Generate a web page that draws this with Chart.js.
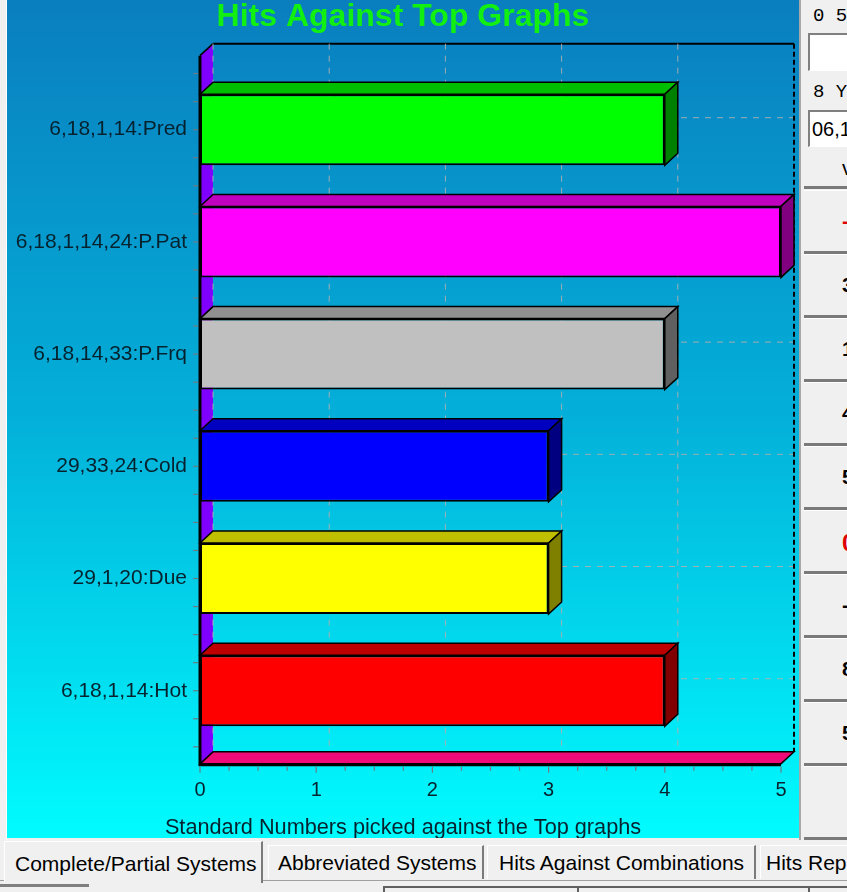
<!DOCTYPE html>
<html><head><meta charset="utf-8">
<script src="https://cdn.jsdelivr.net/npm/chart.js@4.4.1/dist/chart.umd.min.js"></script>
<style>
html,body{margin:0;padding:0;width:847px;height:892px;overflow:hidden;background:#f0f0f0;font-family:"Liberation Sans",Arial,sans-serif;}
#wrap{position:absolute;left:7px;top:0;width:792px;height:838px;}
#leftline{position:absolute;left:6px;top:0;width:1px;height:840px;background:#ffffff;}
#side{position:absolute;left:799px;top:0;width:48px;height:840px;background:#f0f0f0;border-left:2px solid #a8a8a8;overflow:hidden;}
.lbl{position:absolute;font-family:"Liberation Mono","DejaVu Sans Mono",monospace;font-size:19px;color:#000;white-space:nowrap;}
.inp{position:absolute;left:7px;width:60px;background:#fff;border-top:2px solid #808080;border-left:2px solid #808080;border-bottom:1px solid #fff;overflow:hidden;}
.cell{position:absolute;left:3px;width:80px;height:60px;border-top:1px solid #ffffff;border-bottom:3px solid #7a7a7a;background:#f0f0f0;}
.cell span{position:absolute;left:38px;top:18px;font-size:21px;font-weight:bold;color:#000;}
.tab{position:absolute;height:34px;background:#f0f0f0;border-top:1px solid #fff;border-left:1px solid #fff;border-right:2px solid #7a7a7a;font-size:21px;line-height:34px;white-space:nowrap;overflow:hidden;color:#000;}
</style></head>
<body>
<div id="leftline"></div>
<div id="wrap"><canvas id="c" width="792" height="838"></canvas></div>
<div id="side">
  <div class="lbl" style="left:12px;top:5px;">0 5</div>
  <div class="inp" style="top:33px;height:35px;"></div>
  <div class="lbl" style="left:12px;top:81px;">8 Y</div>
  <div class="inp" style="top:110px;height:34px;"><span style="position:absolute;left:2px;top:5px;font-family:'Liberation Sans',Arial;font-size:20px;line-height:24px;white-space:nowrap;">06,18</span></div>
  <div class="cell" style="top:150px;height:36px;border-top:none;"><span style="top:6px;font-weight:normal;">v</span></div>
  <div class="cell" style="top:190px;"><span style="color:#e00000;">-</span></div>
  <div class="cell" style="top:254px;"><span>3</span></div>
  <div class="cell" style="top:318px;"><span>1</span></div>
  <div class="cell" style="top:382px;"><span>4</span></div>
  <div class="cell" style="top:446px;"><span>5</span></div>
  <div class="cell" style="top:510px;"><span style="color:#e00000;font-size:24px;">0</span></div>
  <div class="cell" style="top:574px;"><span>-</span></div>
  <div class="cell" style="top:638px;"><span>8</span></div>
  <div class="cell" style="top:702px;"><span>5</span></div>
  <div class="cell" style="top:766px;height:70px;"></div>
</div>
<div style="position:absolute;left:0;top:880px;width:847px;height:1px;background:#a0a0a0;"></div>
<div class="tab" style="left:4px;top:841px;width:259px;height:42px;line-height:44px;padding-left:10px;box-sizing:border-box;border-right:2px solid #7a7a7a;">Complete/Partial Systems</div>
<div class="tab" style="left:268px;top:845px;width:216px;padding-left:9px;box-sizing:border-box;">Abbreviated Systems</div>
<div class="tab" style="left:487px;top:845px;width:269px;padding-left:11px;box-sizing:border-box;">Hits Against Combinations</div>
<div class="tab" style="left:760px;top:845px;width:130px;padding-left:5px;box-sizing:border-box;">Hits Rep</div>
<div style="position:absolute;left:0;top:884px;width:89px;height:3px;background:#808080;"></div>
<div style="position:absolute;left:383px;top:886px;width:192px;height:8px;border-top:2px solid #606060;border-left:2px solid #606060;"></div>
<div style="position:absolute;left:577px;top:886px;width:230px;height:8px;border-top:2px solid #606060;border-left:2px solid #606060;"></div>
<div style="position:absolute;left:808px;top:886px;width:40px;height:8px;border-top:2px solid #606060;border-left:2px solid #606060;"></div>
<script>
// ---- data ----
const categories = ['6,18,1,14:Pred','6,18,1,14,24:P.Pat','6,18,14,33:P.Frq','29,33,24:Cold','29,1,20:Due','6,18,1,14:Hot'];
const hits = [4, 5, 4, 3, 3, 4];
const barColors = ['#00ff00','#ff00ff','#c0c0c0','#0000ff','#ffff00','#ff0000'];
const xTickValues = [0, 1, 2, 3, 4, 5];
const chartTitle = 'Hits Against Top Graphs';
const axisTitle = 'Standard Numbers picked against the Top graphs';

// ---- style ----
const DX = 13, DY = 12;
function shade(hex, f) {
  const n = parseInt(hex.slice(1), 16);
  const r = Math.round(((n >> 16) & 255) * f), g = Math.round(((n >> 8) & 255) * f), b = Math.round((n & 255) * f);
  return `rgb(${r},${g},${b})`;
}
function poly(ctx, pts, fill, stroke, lw) {
  ctx.beginPath();
  ctx.moveTo(pts[0][0], pts[0][1]);
  for (let i = 1; i < pts.length; i++) ctx.lineTo(pts[i][0], pts[i][1]);
  ctx.closePath();
  if (fill) { ctx.fillStyle = fill; ctx.fill(); }
  if (stroke) { ctx.strokeStyle = stroke; ctx.lineWidth = lw || 1; ctx.stroke(); }
}
function frame(chart) {
  const a = chart.chartArea, x = chart.scales.x, y = chart.scales.y;
  const cat = y.getPixelForValue(1) - y.getPixelForValue(0);
  return { a, x, y, cat,
    top: a.top - cat * 0.16, bottom: a.bottom + cat * 0.152,
    L: x.getPixelForValue(x.min), R: x.getPixelForValue(x.max) };
}

const bgPlugin = {
  id: 'bg',
  beforeDraw(chart) {
    const ctx = chart.ctx, h = chart.height;
    const g = ctx.createLinearGradient(0, 0, 0, h);
    g.addColorStop(0, '#0a7ebf');
    g.addColorStop(0.5, '#03b0d9');
    g.addColorStop(1, '#00fcff');
    ctx.save(); ctx.fillStyle = g; ctx.fillRect(0, 0, chart.width, h); ctx.restore();
  }
};

const walls = {
  id: 'walls',
  beforeDatasetsDraw(chart) {
    const ctx = chart.ctx;
    const f = frame(chart);
    ctx.save();
    // left wall
    poly(ctx, [[f.L, f.top], [f.L + DX, f.top - DY], [f.L + DX, f.bottom - DY], [f.L, f.bottom]], '#8000ff');
    // floor
    poly(ctx, [[f.L, f.bottom], [f.L + DX, f.bottom - DY], [f.R + DX, f.bottom - DY], [f.R, f.bottom]], '#ee0a78', '#000', 1.5);
    // left wall top edge
    ctx.strokeStyle = '#000'; ctx.lineWidth = 1.5;
    ctx.beginPath(); ctx.moveTo(f.L, f.top); ctx.lineTo(f.L + DX, f.top - DY); ctx.stroke();
    // back wall top edge
    ctx.lineWidth = 2;
    ctx.beginPath(); ctx.moveTo(f.L + DX, f.top - DY); ctx.lineTo(f.R + DX, f.top - DY); ctx.stroke();
    // vertical grid
    ctx.lineWidth = 1;
    ctx.setLineDash([6, 6]);
    ctx.strokeStyle = 'rgba(175,175,175,0.9)';
    f.x.ticks.forEach(t => {
      if (t.value === f.x.max) return;
      const px = f.x.getPixelForValue(t.value) + DX;
      ctx.beginPath(); ctx.moveTo(px, f.top - DY); ctx.lineTo(px, f.bottom - DY); ctx.stroke();
    });
    // horizontal grid
    f.y.ticks.forEach((t, i) => {
      const py = f.y.getPixelForTick(i) - DY;
      ctx.beginPath(); ctx.moveTo(f.L + DX, py); ctx.lineTo(f.R + DX, py); ctx.stroke();
    });
    // right edge of back wall
    ctx.setLineDash([5, 3]);
    ctx.strokeStyle = '#000'; ctx.lineWidth = 2;
    ctx.beginPath(); ctx.moveTo(f.R + DX, f.top - DY); ctx.lineTo(f.R + DX, f.bottom - DY); ctx.stroke();
    ctx.restore();
  },
  afterDatasetsDraw(chart) {
    const ctx = chart.ctx;
    const f = frame(chart);
    ctx.save();
    const meta = chart.getDatasetMeta(0);
    meta.data.forEach((el, i) => {
      const p = el.getProps(['x', 'y', 'base', 'height'], true);
      const t = p.y - p.height / 2, b = p.y + p.height / 2;
      const col = barColors[i];
      poly(ctx, [[p.base, t], [p.x, t], [p.x + DX, t - DY], [p.base + DX, t - DY]], shade(col, 0.75), '#000', 1.5);
      poly(ctx, [[p.x, t], [p.x + DX, t - DY], [p.x + DX, b - DY], [p.x, b]], shade(col, 0.5), '#000', 1.5);
    });
    // front axes
    ctx.strokeStyle = '#000';
    ctx.lineWidth = 3;
    ctx.beginPath(); ctx.moveTo(f.L, f.top); ctx.lineTo(f.L, f.bottom + 1); ctx.lineTo(f.R, f.bottom + 1); ctx.stroke();
    // minor ticks left
    ctx.lineWidth = 1.2; ctx.strokeStyle = '#6a7d86';
    const n = categories.length;
    for (let k = 0; k <= n * 4; k++) {
      const py = f.y.getPixelForValue(-0.5) + k * f.cat / 4;
      if (py < f.top || py > f.bottom) continue;
      ctx.beginPath(); ctx.moveTo(f.L - 7, py); ctx.lineTo(f.L - 2, py); ctx.stroke();
    }
    // ticks bottom
    for (let v = f.x.min; v <= f.x.max + 1e-9; v += 0.25) {
      const px = f.x.getPixelForValue(v);
      ctx.beginPath(); ctx.moveTo(px, f.bottom + 3); ctx.lineTo(px, f.bottom + (Number.isInteger(v) ? 9 : 7)); ctx.stroke();
    }
    ctx.restore();
  }
};

new Chart(document.getElementById('c'), {
  type: 'bar',
  data: {
    labels: categories,
    datasets: [{
      data: hits,
      backgroundColor: barColors,
      borderColor: '#000',
      borderWidth: 2,
      borderSkipped: false,
      barPercentage: 0.633,
      categoryPercentage: 1.0
    }]
  },
  options: {
    indexAxis: 'y',
    responsive: false,
    animation: false,
    devicePixelRatio: 1,
    layout: { padding: { left: 0, right: 0, top: 0, bottom: 0 } },
    plugins: {
      legend: { display: false },
      tooltip: { enabled: false },
      title: {
        display: true, text: chartTitle, color: '#12f012',
        font: { family: 'Liberation Sans, Arial, sans-serif', size: 32, weight: 'bold', lineHeight: 1.05 },
        padding: { top: 0, bottom: 40 }
      },
      subtitle: {
        display: true, position: 'bottom', text: axisTitle, color: '#06222e',
        font: { family: 'Liberation Sans, Arial, sans-serif', size: 21.7, weight: 'normal', lineHeight: 0.93 },
        padding: { top: 0, bottom: 0 }
      }
    },
    scales: {
      x: {
        type: 'linear', min: 0, max: 5,
        afterBuildTicks(scale) { scale.ticks = xTickValues.map(v => ({ value: v })); },
        afterFit(scale) { scale.height = 71; },
        grid: { display: false, drawTicks: true, tickLength: 32 }, border: { display: false },
        ticks: { padding: 0, color: '#06222e', font: { family: 'Liberation Sans, Arial, sans-serif', size: 20 } }
      },
      y: {
        afterFit(scale) { scale.width = 193; },
        grid: { display: false, drawTicks: false }, border: { display: false },
        ticks: { padding: 13, color: '#06222e', font: { family: 'Liberation Sans, Arial, sans-serif', size: 21 } }
      },
      yRightMargin: {
        type: 'linear', position: 'right', min: 0, max: 1,
        afterFit(scale) { scale.width = 18; },
        grid: { display: false, drawTicks: false }, border: { display: false },
        ticks: { display: false }
      }
    }
  },
  plugins: [bgPlugin, walls]
});
</script>
</body></html>
